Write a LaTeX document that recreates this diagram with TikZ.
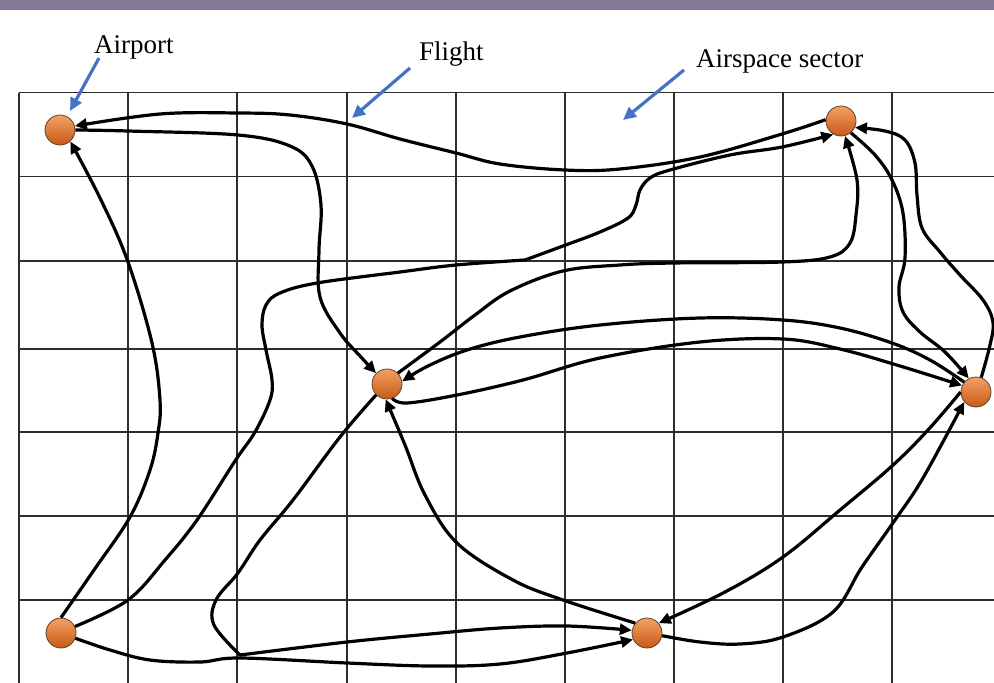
\documentclass[tikz,border=0pt]{standalone}
\usepackage{fontspec}
\setmainfont{Liberation Serif}
\usetikzlibrary{arrows.meta}

\definecolor{barpurple}{RGB}{133,122,150}
\definecolor{gridgray}{RGB}{45,45,45}
\definecolor{pointerblue}{RGB}{68,114,196}
\definecolor{apLight}{RGB}{244,160,100}
\definecolor{apDark}{RGB}{198,90,22}
\definecolor{apEdge}{RGB}{95,65,45}

\begin{document}
\begin{tikzpicture}[x=1pt,y=-1pt,
  airport/.style={circle, minimum size=30pt, inner sep=0pt,
    top color=apLight, bottom color=apDark, draw=apEdge, line width=0.8pt},
  flight/.style={line width=3.2pt, black, line join=round,
    -{Triangle[length=12pt,width=11pt]}},
  gridline/.style={line width=1.3pt, gridgray},
  pointer/.style={line width=3.2pt, pointerblue,
    -{Triangle[length=13pt,width=12pt]}},
  caption/.style={font=\fontsize{27}{30}\selectfont, inner sep=0pt, anchor=base west},
  route/.style={smooth, tension=0.6},
]
\useasboundingbox (0,0) rectangle (994,683);

% title band
\fill[barpurple] (0,0) rectangle (994,10);

% airspace sectors
\foreach \x in {19,128,237,347,456,565,674,783,892}
  \draw[gridline] (\x,92.7) -- (\x,684);
\foreach \y in {92.7,176.7,261,349,432,516,600}
  \draw[gridline] (19,\y) -- (995,\y);

% airports
\node[airport] (A1) at (60,130) {};
\node[airport] (A2) at (841,121) {};
\node[airport] (A3) at (387,384) {};
\node[airport] (A4) at (976,392) {};
\node[airport] (A5) at (61,633) {};
\node[airport] (A6) at (647,633) {};

% flights
\draw[flight] plot[route] coordinates {(A2.175) (782,134) (700,157) (620,169) (565,170)
  (500,164) (456,153) (400,139) (347,124) (290,115) (238,113) (160,114) (A1.15)};
\draw[flight] plot[route] coordinates {(A1.east) (128,131) (238,135) (290,146) (312,166)
  (321,205) (319,250) (320,297) (340,333) (360,356) (A3.135)};
\draw[flight] plot[route] coordinates {(A5.north) (94,570) (130,517) (150,470) (158,433)
  (160,400) (152,343) (128,262) (101,200) (A1.-48)};
\draw[flight] plot[route] coordinates {(A5.25) (128,600) (165,560) (197,520) (235,461)
  (255,432) (270,400) (272,380) (266,350) (262,325) (266,305) (280,293) (317,283)
  (400,272) (456,265) (525,260)}
  -- plot[route] coordinates {(525,260) (563,246) (600,232) (628,218) (636,205)
  (640,190) (650,178) (670,170) (730,155) (782,147) (A2.-120)};
\draw[flight] plot[route] coordinates {(A5.-20) (110,650) (150,660) (200,662) (240,658)
  (347,663) (430,666) (500,664) (567,653) (A6.-155)};
\draw[flight] plot[route] coordinates {(A3.-135) (340,437) (293,500) (260,540) (238,573)
  (216,600) (214,625) (240,655)}
  -- plot[route] coordinates {(240,655) (347,642) (430,634) (500,628) (567,626) (A6.170)};
\draw[flight] plot[route] coordinates {(A6.140) (563,600) (513,580) (457,543) (425,495)
  (405,445) (A3.-95)};
\draw[flight] plot[route] coordinates {(A6.-10) (700,642) (740,644) (783,637) (833,612)
  (862,567) (895,520) (923,478) (A4.-140)};
\draw[flight] plot[route] coordinates {(A4.west) (928,430) (892,466) (840,510) (783,557)
  (725,592) (A6.40)};
\draw[flight] plot[route] coordinates {(A3.-70) (407,403) (457,395) (523,380) (600,358)
  (700,342) (783,339) (840,349) (900,366) (A4.155)};
\draw[flight] plot[route] coordinates {(A4.140) (930,360) (892,343) (840,328) (783,320)
  (700,318) (600,325) (520,337) (467,350) (428,366) (A3.10)};
\draw[flight] plot[route] coordinates {(A3.45) (440,342) (475,315) (510,291) (563,271)
  (620,265) (673,263) (782,262) (830,257) (850,243) (856,215) (857,180) (A2.-75)};
\draw[flight] plot[route] coordinates {(A2.-50) (875,155) (892,180) (903,213) (905,258)
  (899,287) (903,312) (920,332) (945,352) (A4.118)};
\draw[flight] plot[route] coordinates {(A4.70) (990,345) (993,322) (983,300) (960,275)
  (940,252) (922,228) (917,195) (915,163) (905,140) (885,131) (A2.-25)};

% labels and pointers
\node[caption] (lblAirport) at (94,53) {Airport};
\node[caption] (lblFlight) at (419,60) {Flight};
\node[caption] (lblSector) at (696,67) {Airspace sector};

\coordinate (tailAirport) at (99,58);
\coordinate (tailFlight) at (410,68);
\coordinate (tailSector) at (684,70);
\coordinate (ptAirport) at (70,111);
\coordinate (ptFlight) at (352,118);
\coordinate (ptSector) at (623,120);
\draw[pointer] (tailAirport) -- (ptAirport);
\draw[pointer] (tailFlight) -- (ptFlight);
\draw[pointer] (tailSector) -- (ptSector);
\end{tikzpicture}
\end{document}
